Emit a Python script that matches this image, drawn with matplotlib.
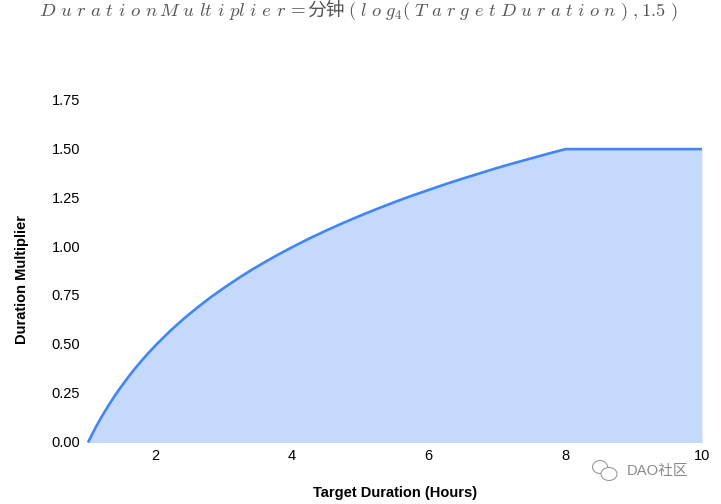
import matplotlib
matplotlib.use("Agg")
import matplotlib.pyplot as plt
from matplotlib.patches import Ellipse
from matplotlib.transforms import ScaledTranslation

plt.rcParams['font.family'] = ['Liberation Sans', 'Noto Sans CJK SC', 'DejaVu Sans']
plt.rcParams['mathtext.fontset'] = 'cm'

target_hours = [1, 1.05, 1.1, 1.2, 1.3, 1.4, 1.5, 1.6, 1.7, 1.8, 1.9, 2, 2.2, 2.4, 2.6, 2.8, 3, 3.2, 3.4, 3.6, 3.8,
                4, 4.25, 4.5, 4.75, 5, 5.25, 5.5, 5.75, 6, 6.25, 6.5, 6.75, 7, 7.25, 7.5, 7.75, 8, 10]
multiplier = [0, 0.035, 0.069, 0.132, 0.189, 0.243, 0.292, 0.339, 0.383, 0.424, 0.463, 0.500, 0.569, 0.632, 0.689,
              0.743, 0.792, 0.839, 0.883, 0.924, 0.963, 1.000, 1.044, 1.085, 1.124, 1.161, 1.196, 1.230, 1.262,
              1.292, 1.322, 1.350, 1.377, 1.404, 1.429, 1.453, 1.477, 1.500, 1.500]
x_ticks = [2, 4, 6, 8, 10]
y_ticks = [0, 0.25, 0.5, 0.75, 1.0, 1.25, 1.5, 1.75]
x_label = "Target Duration (Hours)"
y_label = "Duration Multiplier"

W, H = 721, 504
fig = plt.figure(figsize=(W / 100, H / 100), dpi=100)
left, right, bottom, top = 88, 702, 442.5, 100.2
ax = fig.add_axes([left / W, 1 - bottom / H, (right - left) / W, (bottom - top) / H])

ax.fill_between(target_hours, multiplier, 0, color="#4285F4", alpha=0.31, linewidth=0)
ax.plot(target_hours, multiplier, color="#4285F4", linewidth=1.9, solid_capstyle="butt",
        solid_joinstyle="round", clip_on=False)
ax.set_xlim(1, 10)
ax.set_ylim(0, 1.75)
ax.set_xticks(x_ticks)
ax.set_yticks(y_ticks)
ax.set_yticklabels([f"{v:.2f}" for v in y_ticks])
ax.tick_params(length=0, labelsize=10.5, colors="#000000")
ax.tick_params(axis="x", pad=4.5)
ax.tick_params(axis="y", pad=5.5)
shift_x = ScaledTranslation(-1 / 100, 0, fig.dpi_scale_trans)
shift_y = ScaledTranslation(0, -0.7 / 100, fig.dpi_scale_trans)
for lab, v in zip(ax.get_xticklabels(), x_ticks):
    if v < 8:
        lab.set_transform(lab.get_transform() + shift_x)
for lab in ax.get_yticklabels():
    lab.set_verticalalignment("center")
    lab.set_transform(lab.get_transform() + shift_y)
for s in ax.spines.values():
    s.set_visible(False)

fig.text(395 / W, 1 - 493 / H, x_label, ha="center", va="center", fontsize=10.5, fontweight="bold")
fig.text(22 / W, 1 - 279 / H, y_label, ha="center", va="center", rotation=90, fontsize=10.5, fontweight="bold")

title_col = "#555555"
title_kw = dict(color=title_col, va="baseline", fontsize=13.6)
fig.text(39 / W, 1 - 16 / H,
         r"$D\ u\ r\ a\ t\ i\ o\ n\,M\ u\ lt\ i\ pl\ i\ e\ r\,=$", ha="left", **title_kw)
fig.text(307 / W, 1 - 16 / H, "分钟", ha="left", family=['Noto Sans CJK SC'],
         color=title_col, va="baseline", fontsize=13.5)
fig.text(348 / W, 1 - 16 / H,
         r"$(\ l\ o\ g_4(\ T\ a\ r\ g\ e\ t\ D\ u\ r\ a\ t\ i\ o\ n\ )\ ,1.5\ )$", ha="left",
         color=title_col, va="baseline", fontsize=13.3)

# watermark
wm = "#9a9a9a"
fig.text(627 / W, 1 - 471.5 / H, "DAO社区", ha="left", va="center", fontsize=10.6, color="#8a8a8a",
         family=['Liberation Sans', 'Noto Sans CJK SC'])
for (cx, cy, rx, ry) in [(600, 467, 7.5, 6.5), (609, 474, 8, 6.5)]:
    fig.add_artist(Ellipse((cx / W, 1 - cy / H), 2 * rx / W, 2 * ry / H, transform=fig.transFigure,
                           facecolor="white", edgecolor=wm, linewidth=0.8))

fig.savefig("out.png", dpi=100)
